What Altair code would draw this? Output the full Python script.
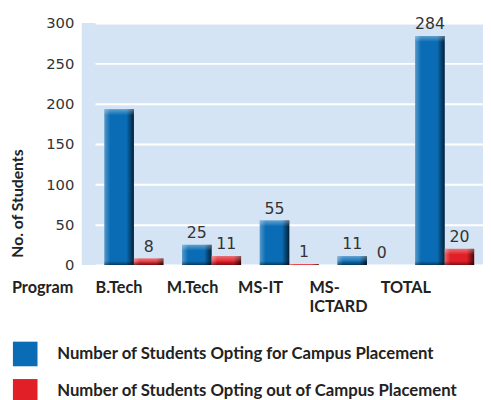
import altair as alt
import pandas as pd

programs = ["B.Tech", "M.Tech", "MS-IT", "MS-ICTARD", "TOTAL"]
program_labels = ["B.Tech", "M.Tech", "MS-IT", "MS-\nICTARD", "TOTAL"]
series = ["Number of Students Opting for Campus Placement",
          "Number of Students Opting out of Campus Placement"]
opting_for = [193, 25, 55, 11, 284]
opting_out = [8, 11, 1, 0, 20]
label_for = ["", "25", "55", "11", "284"]
label_out = ["8", "11", "1", "0", "20"]
colors = ["#0a6cb4", "#e11f26"]
y_ticks = [0, 50, 100, 150, 200, 250, 300]

rows = []
for i, p in enumerate(programs):
    rows.append(dict(program=p, series=series[0], value=opting_for[i], label=label_for[i]))
    rows.append(dict(program=p, series=series[1], value=opting_out[i], label=label_out[i]))
df = pd.DataFrame(rows)
df_prog = pd.DataFrame({"program": programs, "plabel": program_labels})
df_title = pd.DataFrame({"t": ["Program"]})

x_scale = alt.Scale(domain=programs, range=[13.5, 408.5], paddingInner=0, paddingOuter=0)
xo_scale = alt.Scale(domain=series, paddingInner=0, paddingOuter=0.317)
y_scale = alt.Scale(domain=[0, 300])

y_axis = alt.Axis(values=y_ticks, grid=True, gridColor="white", gridWidth=2,
                  domain=False, ticks=False, labelFont="DejaVu Sans", labelFontSize=15,
                  labelColor="#333333", labelPadding=8, title="No. of Students",
                  titleFont="Lato", titleFontSize=16, titleFontWeight="bold",
                  titleColor="#222222", titleX=-65, titleY=183, titleBaseline="middle",
                  titleAlign="center")

base = alt.Chart(df).encode(
    x=alt.X("program:N", scale=x_scale, axis=None, sort=programs),
    xOffset=alt.XOffset("series:N", scale=xo_scale, sort=series),
    y=alt.Y("value:Q", scale=y_scale, axis=y_axis),
)

bars = base.mark_bar().encode(
    color=alt.Color("series:N", scale=alt.Scale(domain=series, range=colors),
                    legend=alt.Legend(orient="none", legendX=-70, legendY=324, title=None,
                                      symbolType="square", symbolSize=625,
                                      symbolStrokeWidth=0, symbolOpacity=1,
                                      labelFont="Lato", labelFontSize=17,
                                      labelFontWeight="bold", labelColor="#222222",
                                      labelOffset=20, rowPadding=13, labelLimit=500,
                                      direction="vertical"))
)

shade = base.mark_bar(fill=alt.LinearGradient(
    gradient="linear", x1=0, x2=1, y1=0, y2=0,
    stops=[alt.GradientStop(offset=0, color="rgba(255,255,255,0.3)"),
           alt.GradientStop(offset=0.2, color="rgba(255,255,255,0)"),
           alt.GradientStop(offset=0.75, color="rgba(0,0,0,0)"),
           alt.GradientStop(offset=1, color="rgba(0,0,0,0.7)")]))

top_hl = base.transform_filter("datum.value > 2").mark_bar(
    y2Offset=6,
    fill=alt.LinearGradient(
        gradient="linear", x1=0, x2=0, y1=0, y2=1,
        stops=[alt.GradientStop(offset=0, color="rgba(255,255,255,0.35)"),
               alt.GradientStop(offset=1, color="rgba(255,255,255,0)")])
).encode(y2=alt.Y2("value:Q"))

bottom_dk = base.transform_filter("datum.value > 2").mark_bar(
    yOffset=-4,
    fill=alt.LinearGradient(
        gradient="linear", x1=0, x2=0, y1=0, y2=1,
        stops=[alt.GradientStop(offset=0, color="rgba(0,0,0,0)"),
               alt.GradientStop(offset=1, color="rgba(0,0,0,0.45)")])
).encode(y=alt.datum(0), y2=alt.Y2(datum=0))

values = base.mark_text(baseline="bottom", dy=-4, font="DejaVu Sans", fontSize=16,
                        color="#333333").encode(text="label:N")

prog_labels = alt.Chart(df_prog).mark_text(
    align="left", baseline="top", lineBreak="\n", font="Lato", fontSize=16.5,
    fontWeight="bold", color="#222222", lineHeight=19
).encode(
    x=alt.X("program:N", sort=programs, axis=None,
            scale=alt.Scale(domain=programs, range=[-22.25, 340.25], paddingInner=0, paddingOuter=0)),
    y=alt.value(262),
    text="plabel:N",
)

prog_title = alt.Chart(df_title).mark_text(
    align="left", baseline="top", font="Lato", fontSize=16.5, fontWeight="bold", color="#222222"
).encode(x=alt.value(-71), y=alt.value(262), text="t:N")

chart = alt.layer(bars, shade, top_hl, bottom_dk, values, prog_labels, prog_title).resolve_scale(
    x="independent"
).properties(
    width=408, height=246, autosize="none",
    padding={"left": 75, "top": 12, "right": 0, "bottom": 134},
).configure_view(fill="#d5e4f4", strokeWidth=0)

chart.save("out.html", embed_options={"renderer": "svg", "actions": False})
